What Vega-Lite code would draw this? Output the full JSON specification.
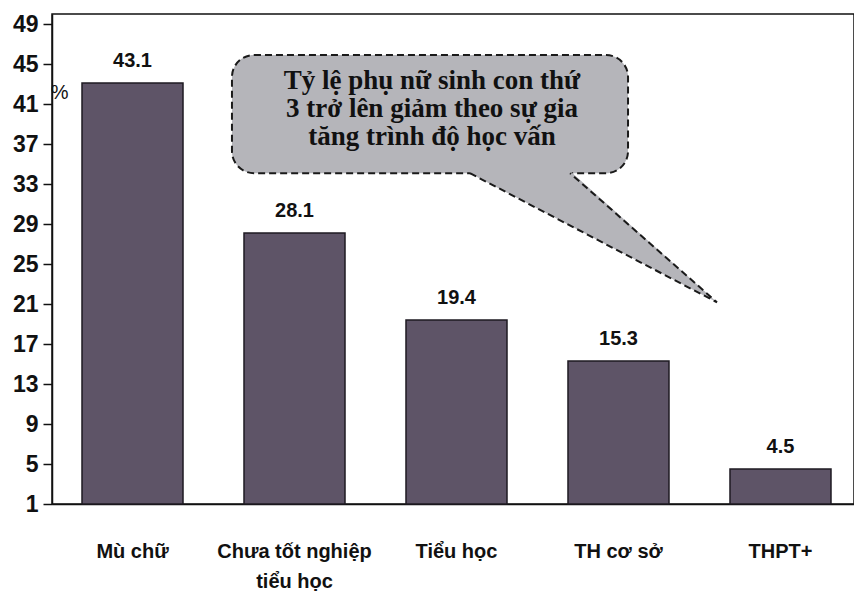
{
  "$schema": "https://vega.github.io/schema/vega-lite/v6.json",
  "autosize": {"type": "none"},
  "padding": {"left": 52, "top": 14, "right": 0, "bottom": 104},
  "width": 802,
  "height": 490,
  "background": "white",
  "config": {"view": {"stroke": "#111", "strokeWidth": 1.5}},
  "datasets": {
    "bars": [
      {"level": "Mù chữ", "pct": 43.1},
      {"level": "Chưa tốt nghiệp tiểu học", "pct": 28.1},
      {"level": "Tiểu học", "pct": 19.4},
      {"level": "TH cơ sở", "pct": 15.3},
      {"level": "THPT+", "pct": 4.5}
    ],
    "bubble": [{"x1": 0.614, "x2": 3.059, "y1": 45.9, "y2": 34.08}],
    "tail": [
      {"tx": 2.083, "ty": 34.3, "ty2": 34.08},
      {"tx": 2.701, "ty": 34.3, "ty2": 28.85},
      {"tx": 3.608, "ty": 21.17, "ty2": 21.17}
    ],
    "tailEdge": [
      {"lx": 2.083, "ly": 34.08, "k": 0},
      {"lx": 3.608, "ly": 21.17, "k": 1},
      {"lx": 2.701, "ly": 34.08, "k": 2}
    ],
    "note": [{"nx": 1.849, "ny": 43.3, "label": "Tỷ lệ phụ nữ sinh con thứ\n3 trở lên giảm theo sự gia\ntăng trình độ học vấn"}],
    "unit": [{"ux": -0.45, "uy": 42.1, "label": "%"}]
  },
  "layer": [
    {
      "data": {"name": "bars"},
      "encoding": {
        "x": {
          "field": "level", "type": "nominal", "sort": null,
          "scale": {"paddingInner": 0.3765, "paddingOuter": 0.1636, "align": 0.566, "round": false},
          "axis": {
            "title": null, "labelAngle": 0, "ticks": false, "tickSize": 0,
            "labelPadding": 37, "labelFont": "Liberation Sans, Arial, sans-serif",
            "labelFontSize": 20, "labelFontWeight": "bold", "labelColor": "#111",
            "labelLineHeight": 30, "labelLimit": 300,
            "labelExpr": "datum.value == 'Chưa tốt nghiệp tiểu học' ? ['Chưa tốt nghiệp', 'tiểu học'] : datum.value",
            "domainColor": "#111", "domainWidth": 1.5
          }
        },
        "y": {
          "field": "pct", "type": "quantitative",
          "scale": {"domain": [1, 50], "zero": false, "nice": false},
          "axis": {
            "title": null, "values": [1, 5, 9, 13, 17, 21, 25, 29, 33, 37, 41, 45, 49],
            "grid": false, "tickSize": 9, "tickColor": "#111", "tickWidth": 1.5,
            "domainColor": "#111", "domainWidth": 1.5, "labelPadding": 5,
            "labelFont": "Liberation Sans, Arial, sans-serif",
            "labelFontSize": 23, "labelFontWeight": "bold", "labelColor": "#111"
          }
        }
      },
      "layer": [
        {
          "mark": {"type": "bar", "color": "#5e5467", "stroke": "#1e1a22", "strokeWidth": 1.5},
          "encoding": {"y2": {"datum": 1}}
        },
        {
          "mark": {"type": "text", "baseline": "alphabetic", "dy": -16, "font": "Liberation Sans, Arial, sans-serif", "fontSize": 20, "fontWeight": "bold", "color": "#111"},
          "encoding": {"text": {"field": "pct", "type": "quantitative", "format": ".1f"}}
        }
      ]
    },
    {
      "data": {"name": "bubble"},
      "mark": {"type": "rect", "fill": "#b5b5ba", "stroke": "#1a1a1a", "strokeWidth": 2, "strokeDash": [7, 4], "cornerRadius": 22},
      "encoding": {
        "x": {"field": "x1", "type": "quantitative", "scale": {"domain": [-0.497, 4.454], "nice": false, "zero": false}, "axis": null},
        "x2": {"field": "x2"},
        "y": {"field": "y1", "type": "quantitative", "scale": {"domain": [1, 50], "zero": false, "nice": false}},
        "y2": {"field": "y2"}
      }
    },
    {
      "data": {"name": "tail"},
      "mark": {"type": "area", "fill": "#b5b5ba", "opacity": 1},
      "encoding": {
        "x": {"field": "tx", "type": "quantitative", "scale": {"domain": [-0.497, 4.454], "nice": false, "zero": false}, "axis": null},
        "y": {"field": "ty", "type": "quantitative", "scale": {"domain": [1, 50], "zero": false, "nice": false}},
        "y2": {"field": "ty2"}
      }
    },
    {
      "data": {"name": "tailEdge"},
      "mark": {"type": "line", "color": "#1a1a1a", "strokeWidth": 2, "strokeDash": [7, 4]},
      "encoding": {
        "x": {"field": "lx", "type": "quantitative", "scale": {"domain": [-0.497, 4.454], "nice": false, "zero": false}, "axis": null},
        "y": {"field": "ly", "type": "quantitative", "scale": {"domain": [1, 50], "zero": false, "nice": false}},
        "order": {"field": "k"}
      }
    },
    {
      "data": {"name": "note"},
      "mark": {"type": "text", "lineBreak": "\n", "font": "Liberation Serif, Times New Roman, serif", "fontSize": 27, "fontWeight": "bold", "lineHeight": 28, "color": "#111", "align": "center", "baseline": "middle"},
      "encoding": {
        "x": {"field": "nx", "type": "quantitative", "scale": {"domain": [-0.497, 4.454], "nice": false, "zero": false}, "axis": null},
        "y": {"field": "ny", "type": "quantitative", "scale": {"domain": [1, 50], "zero": false, "nice": false}},
        "text": {"field": "label"}
      }
    },
    {
      "data": {"name": "unit"},
      "mark": {"type": "text", "font": "Liberation Sans, Arial, sans-serif", "fontSize": 20, "color": "#111", "align": "center", "baseline": "middle"},
      "encoding": {
        "x": {"field": "ux", "type": "quantitative", "scale": {"domain": [-0.497, 4.454], "nice": false, "zero": false}, "axis": null},
        "y": {"field": "uy", "type": "quantitative", "scale": {"domain": [1, 50], "zero": false, "nice": false}},
        "text": {"field": "label"}
      }
    }
  ],
  "resolve": {"scale": {"x": "independent"}, "axis": {"x": "independent"}}
}
